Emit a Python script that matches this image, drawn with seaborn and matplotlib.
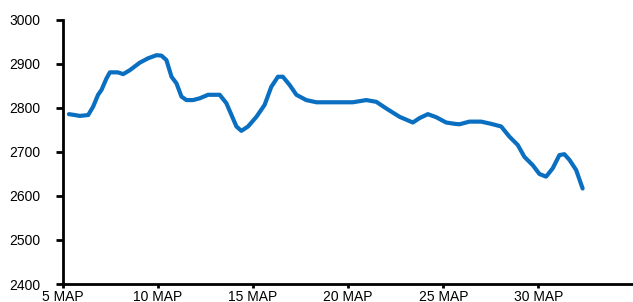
import matplotlib
matplotlib.use("Agg")
import matplotlib.pyplot as plt
import seaborn as sns
import pandas as pd

# day of March (fractional) and index level
days = [5.33, 5.64, 5.9, 6.34, 6.6, 6.86, 7.04, 7.3, 7.48, 7.9, 8.18, 8.53,
        9.05, 9.49, 9.93, 10.19, 10.45, 10.72, 10.98, 11.24, 11.5, 11.85,
        12.2, 12.64, 13.25, 13.6, 13.87, 14.13, 14.39, 14.74, 15.18, 15.61,
        15.96, 16.31, 16.57, 16.93, 17.28, 17.8, 18.33, 19.02, 20.25, 20.95,
        21.48, 22.0, 22.7, 23.4, 23.75, 24.19, 24.63, 25.15, 25.6, 25.85,
        26.37, 26.99, 27.51, 28.04, 28.47, 28.91, 29.26, 29.7, 30.05, 30.4,
        30.75, 31.1, 31.36, 31.63, 31.98, 32.32]
values = [2786, 2784, 2782, 2784, 2803, 2830, 2841, 2867, 2881, 2881, 2877, 2886,
          2903, 2913, 2920, 2919, 2909, 2871, 2856, 2826, 2818, 2818,
          2822, 2830, 2830, 2811, 2784, 2758, 2748, 2758, 2780, 2807,
          2848, 2871, 2871, 2852, 2830, 2818, 2813, 2813, 2813, 2818,
          2814, 2799, 2780, 2767, 2777, 2786, 2779, 2767, 2764, 2763,
          2769, 2769, 2764, 2758, 2735, 2716, 2689, 2670, 2650, 2644,
          2663, 2693, 2695, 2682, 2659, 2617]

xticks = [5, 10, 15, 20, 25, 30, 35]
xlabels = ["5 МАР", "10 МАР", "15 МАР", "20 МАР", "25 МАР", "30 МАР", ""]
yticks = [2400, 2500, 2600, 2700, 2800, 2900, 3000]

sns.set_style("white")
plt.rcParams["font.family"] = ["Liberation Sans Narrow", "Liberation Sans", "DejaVu Sans"]

df = pd.DataFrame({"day": days, "value": values})

fig = plt.figure(figsize=(6.33, 3.02), dpi=100)
ax = fig.add_axes([0.099, 0.0596, 0.902, 0.8742])
sns.lineplot(data=df, x="day", y="value", ax=ax, color="#0a6fc0",
             linewidth=3.0, solid_joinstyle="round", solid_capstyle="round")

ax.set_xlim(5, 35)
ax.set_ylim(2400, 3000)
ax.set_xticks(xticks)
ax.set_xticklabels(xlabels)
ax.set_yticks(yticks)
ax.set_xlabel("")
ax.set_ylabel("")

for s in ["top", "right"]:
    ax.spines[s].set_visible(False)
for s in ["left", "bottom"]:
    ax.spines[s].set_linewidth(2.0)
    ax.spines[s].set_color("black")

ax.tick_params(axis="y", direction="out", length=5, width=2.0, pad=11,
               labelsize=10, colors="black", left=True)
ax.tick_params(axis="x", direction="out", length=3, width=2.0, pad=1,
               labelsize=10, colors="black", bottom=True)

fig.savefig("out.png", dpi=100)
